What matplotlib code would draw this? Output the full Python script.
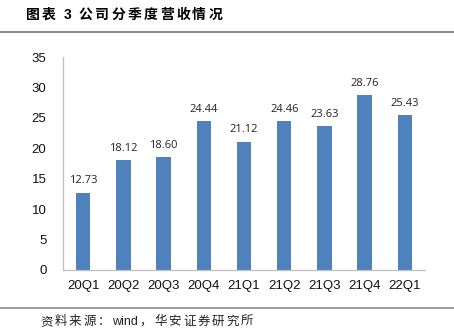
import matplotlib
matplotlib.use("Agg")
from matplotlib import pyplot as plt
from matplotlib.lines import Line2D

plt.rcParams['font.family'] = ['Liberation Sans', 'Noto Sans CJK SC', 'DejaVu Sans']

quarters = ["20Q1", "20Q2", "20Q3", "20Q4", "21Q1", "21Q2", "21Q3", "21Q4", "22Q1"]
revenue = [12.73, 18.12, 18.60, 24.44, 21.12, 24.46, 23.63, 28.76, 25.43]
yticks = [0, 5, 10, 15, 20, 25, 30, 35]
title = ["图", "表", " ", "3", " ", "公", "司", "分", "季", "度", "营", "收", "情", "况"]
source = ["资", "料", "来", "源", "：", "wind", "，", "华", "安", "证", "券", "研", "究", "所"]

fig = plt.figure(figsize=(4.54, 3.30), dpi=100)
ax = fig.add_axes([0.139, 0.182, 0.797, 0.645])

x = range(len(quarters))
bars = ax.bar(x, revenue, width=0.36, color='#4F81BD')
for xi, v in zip(x, revenue):
    ax.text(xi, v + 1.0, f"{v:.2f}", ha='center', va='bottom', fontsize=8,
            family=['Open Sans', 'DejaVu Sans'], color='#222222')

ax.set_xlim(-0.5, len(quarters) - 0.5)
ax.set_ylim(0, 35)
ax.set_yticks(yticks)
ax.set_xticks(list(x))
ax.set_xticklabels(quarters)
ax.tick_params(axis='both', length=0, labelsize=9.5, colors='#111111')
ax.tick_params(axis='y', pad=12)
ax.tick_params(axis='x', pad=7)
for s in ['top', 'right']:
    ax.spines[s].set_visible(False)
for s in ['left', 'bottom']:
    ax.spines[s].set_color('#BFBFBF')
    ax.spines[s].set_linewidth(0.9)


def spaced_text(parts, x0, y, spacing, **kw):
    # draw text piece by piece with extra letter spacing (in pixels)
    r = fig.canvas.get_renderer()
    px = x0 * fig.bbox.width
    for ch in parts:
        t = fig.text(px / fig.bbox.width, y, ch, ha='left', va='center', **kw)
        w = t.get_window_extent(r).width if ch != ' ' else 3.0
        px += w + spacing


spaced_text(title, 0.057, 0.955, 2.3, fontsize=10, fontweight='bold',
            family=['Liberation Sans', 'Noto Sans CJK SC'])
fig.add_artist(Line2D([0, 1], [0.903, 0.903], color='#8C8C8C', linewidth=1.5,
                      transform=fig.transFigure))
fig.add_artist(Line2D([0, 1], [0.066, 0.066], color='#8C8C8C', linewidth=1.2,
                      transform=fig.transFigure))
spaced_text(source, 0.088, 0.024, 1.9, fontsize=9,
            family=['Liberation Sans', 'Noto Sans CJK SC'], color='#222222')

fig.savefig("out.png", dpi=100)
